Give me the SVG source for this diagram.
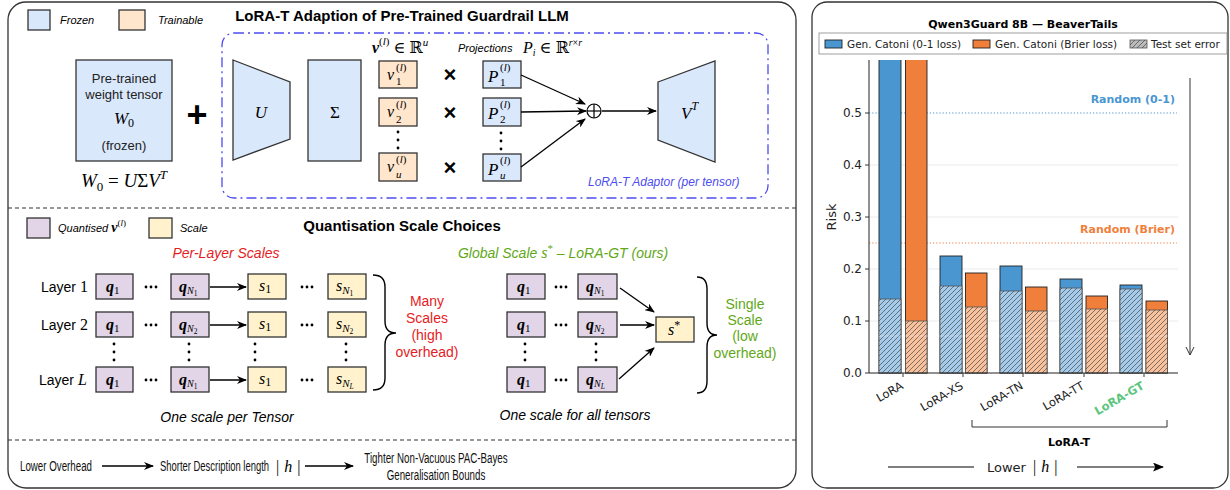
<svg xmlns="http://www.w3.org/2000/svg" width="1230" height="490" viewBox="0 0 1230 490">
<defs>
<style>
.sans{font-family:"Liberation Sans",Arial,sans-serif}
.it{font-family:"Liberation Sans",Arial,sans-serif;font-style:italic}
.b{font-family:"Liberation Sans",Arial,sans-serif;font-weight:bold}
.m{font-family:"Liberation Serif","DejaVu Serif",serif;font-style:italic}
.r{font-family:"Liberation Serif","DejaVu Serif",serif;font-style:normal}
.dj{font-family:"DejaVu Sans",sans-serif}
.fz{fill:#dae8fc;stroke:#333;stroke-width:1.3}
.tr{fill:#ffe6cc;stroke:#333;stroke-width:1.3}
.qu{fill:#e1d5e7;stroke:#333;stroke-width:1.3}
.sc{fill:#fff2cc;stroke:#333;stroke-width:1.3}
.ar{stroke:#000;stroke-width:1.3;fill:none;marker-end:url(#ah)}
.panel{fill:#fff;stroke:#333;stroke-width:1.3}
.sep{stroke:#333;stroke-width:1.2;stroke-dasharray:4 3;fill:none}
.red{fill:#e51c23}
.grn{fill:#5fa818}
.bl{fill:#4a96d1;stroke:#222;stroke-width:0.9}
.or{fill:#ef7f3b;stroke:#222;stroke-width:0.9}
.blh{fill:#a6cbea;stroke:#555;stroke-width:0.8}
.orh{fill:#f8c19d;stroke:#555;stroke-width:0.8}
.hp{fill:url(#hatch);stroke:none}
.grid{stroke:#ebebeb;stroke-width:1}
.tick{stroke:#222;stroke-width:0.9}
.tl{font-family:"DejaVu Sans",sans-serif;font-size:12px;fill:#222;text-anchor:end}
.xl{font-family:"DejaVu Sans",sans-serif;font-size:11.5px;fill:#222;text-anchor:end}
.nar{font-family:"Liberation Sans",Arial,sans-serif;font-size:15px;fill:#111}
</style>
<marker id="ah" viewBox="0 0 10 8" refX="9" refY="4" markerWidth="10" markerHeight="8" markerUnits="userSpaceOnUse" orient="auto"><path d="M0,0 L10,4 L0,8 L3,4 z" fill="#000"/></marker>
<marker id="ah2" viewBox="0 0 10 8" refX="9" refY="4" markerWidth="11" markerHeight="9" markerUnits="userSpaceOnUse" orient="auto"><path d="M0,0 L10,4 L0,8 L2,4 z" fill="#000"/></marker>
<pattern id="hatch" patternUnits="userSpaceOnUse" width="5" height="5"><path d="M0,5 L5,0 M-1,1 L1,-1 M4,6 L6,4" stroke="#333" stroke-width="0.6"/></pattern>
<clipPath id="axclip"><rect x="869" y="60" width="310" height="314"/></clipPath>
<g id="hd"><circle cx="-5" cy="0" r="1.4"/><circle cx="0" cy="0" r="1.4"/><circle cx="5" cy="0" r="1.4"/></g>
<g id="vd"><circle cx="0" cy="-8" r="1.4"/><circle cx="0" cy="0" r="1.4"/><circle cx="0" cy="8" r="1.4"/></g>
</defs>

<rect x="0" y="0" width="1230" height="490" fill="#fff"/>

<!-- Left panel -->
<rect class="panel" x="8" y="2" width="788" height="486" rx="18"/>
<line class="sep" x1="8" y1="208" x2="796" y2="208"/>
<line class="sep" x1="8" y1="440" x2="796" y2="440"/>

<!-- Top section -->
<g id="legend-top">
<rect class="fz" x="28" y="10" width="22" height="20"/>
<text class="it" x="60" y="24" font-size="11">Frozen</text>
<rect class="tr" x="119" y="10" width="26" height="20"/>
<text class="it" x="158" y="24" font-size="11">Trainable</text>
</g>
<text class="b" x="402" y="21" font-size="15" text-anchor="middle">LoRA-T Adaption of Pre-Trained Guardrail LLM</text>

<g id="w0">
<rect class="fz" x="76" y="60" width="96" height="101"/>
<text class="sans" x="124" y="83" font-size="13" text-anchor="middle" fill="#222">Pre-trained</text>
<text class="sans" x="124" y="99" font-size="13" text-anchor="middle" fill="#222">weight tensor</text>
<text x="124" y="124" text-anchor="middle"><tspan class="m" font-size="17">W</tspan><tspan class="r" font-size="12" dy="3">0</tspan></text>
<text class="sans" x="124" y="150" font-size="13" text-anchor="middle" fill="#222">(frozen)</text>
</g>
<text x="124" y="187" text-anchor="middle" font-size="19"><tspan class="m">W</tspan><tspan class="r" font-size="13" dy="4">0</tspan><tspan class="r" dy="-4"> = </tspan><tspan class="m">U</tspan><tspan class="r">Σ</tspan><tspan class="m">V</tspan><tspan class="m" font-size="13" dy="-8">T</tspan></text>
<text class="b" x="197" y="127" font-size="36" text-anchor="middle">+</text>

<g id="adaptor">
<rect x="222" y="33" width="546" height="165" rx="12" fill="none" stroke="#4c4cf0" stroke-width="1.3" stroke-dasharray="10 4 2 4"/>
<text class="it" x="588" y="186" font-size="12" fill="#4c4cf0">LoRA-T Adaptor (per tensor)</text>
</g>
<g id="U"><polygon class="fz" points="233,60 290,82 290,139 233,160"/><text class="m" x="261" y="118" font-size="17" text-anchor="middle">U</text></g>
<g id="Sigma"><rect class="fz" x="308" y="60" width="53" height="101"/><text class="r" x="335" y="118" font-size="17" text-anchor="middle">Σ</text></g>

<text x="372" y="53" font-size="16"><tspan class="m" font-weight="bold">v</tspan><tspan class="r" font-size="11" dy="-8">(</tspan><tspan class="m" font-size="11">l</tspan><tspan class="r" font-size="11">)</tspan><tspan class="r" dy="8"> ∈ ℝ</tspan><tspan class="m" font-size="11" dy="-7">u</tspan></text>
<text class="it" x="458" y="52" font-size="11">Projections</text>
<text x="523" y="53" font-size="16"><tspan class="m">P</tspan><tspan class="m" font-size="10" dy="3">i</tspan><tspan class="r" dy="-3"> ∈ ℝ</tspan><tspan class="m" font-size="10" dy="-7">r</tspan><tspan class="r" font-size="10">×</tspan><tspan class="m" font-size="10">r</tspan></text>

<g id="v1"><rect class="tr" x="379" y="61" width="38" height="27"/><text class="m" x="387" y="80" font-size="16">v</text><text x="396" y="71" font-size="11"><tspan class="r">(</tspan><tspan class="m">l</tspan><tspan class="r">)</tspan></text><text class="r" x="396" y="85" font-size="11">1</text></g>
<g id="v2"><rect class="tr" x="379" y="98" width="38" height="28"/><text class="m" x="387" y="117" font-size="16">v</text><text x="396" y="108" font-size="11"><tspan class="r">(</tspan><tspan class="m">l</tspan><tspan class="r">)</tspan></text><text class="r" x="396" y="123" font-size="11">2</text></g>
<use href="#vd" x="398" y="140"/>
<g id="vu"><rect class="tr" x="379" y="153" width="38" height="28"/><text class="m" x="387" y="172" font-size="16">v</text><text x="396" y="163" font-size="11"><tspan class="r">(</tspan><tspan class="m">l</tspan><tspan class="r">)</tspan></text><text class="m" x="396" y="178" font-size="11">u</text></g>

<text class="b" x="450" y="82" font-size="22" text-anchor="middle">×</text>
<text class="b" x="450" y="120" font-size="22" text-anchor="middle">×</text>
<text class="b" x="450" y="175" font-size="22" text-anchor="middle">×</text>

<g id="P1"><rect class="fz" x="483" y="61" width="38" height="27"/><text class="m" x="488" y="82" font-size="17">P</text><text x="500" y="71" font-size="11"><tspan class="r">(</tspan><tspan class="m">l</tspan><tspan class="r">)</tspan></text><text class="r" x="500" y="86" font-size="11">1</text></g>
<g id="P2"><rect class="fz" x="483" y="98" width="38" height="28"/><text class="m" x="488" y="119" font-size="17">P</text><text x="500" y="108" font-size="11"><tspan class="r">(</tspan><tspan class="m">l</tspan><tspan class="r">)</tspan></text><text class="r" x="500" y="123" font-size="11">2</text></g>
<use href="#vd" x="501" y="141"/>
<g id="Pu"><rect class="fz" x="483" y="154" width="38" height="27"/><text class="m" x="488" y="175" font-size="17">P</text><text x="500" y="164" font-size="11"><tspan class="r">(</tspan><tspan class="m">l</tspan><tspan class="r">)</tspan></text><text class="m" x="500" y="179" font-size="11">u</text></g>

<g id="oplus"><circle cx="594" cy="111" r="7" fill="none" stroke="#000" stroke-width="1.2"/><line x1="587" y1="111" x2="601" y2="111" stroke="#000" stroke-width="1.2"/><line x1="594" y1="104" x2="594" y2="118" stroke="#000" stroke-width="1.2"/></g>
<g id="VT"><polygon class="fz" points="658,82 715,61 715,162 658,140"/><text x="681" y="119" font-size="17"><tspan class="m">V</tspan><tspan class="m" font-size="12" dy="-9">T</tspan></text></g>

<!-- Quantisation section -->
<g id="legend-q">
<rect class="qu" x="27" y="218" width="23" height="20"/>
<text x="58" y="232" font-size="11"><tspan class="it">Quantised </tspan><tspan class="m" font-weight="bold" font-size="14">v</tspan><tspan class="r" font-size="9" dy="-6">(</tspan><tspan class="m" font-size="9">l</tspan><tspan class="r" font-size="9">)</tspan></text>
<rect class="sc" x="149" y="218" width="23" height="20"/>
<text class="it" x="180" y="232" font-size="11">Scale</text>
</g>
<text class="b" x="402" y="231" font-size="15" text-anchor="middle">Quantisation Scale Choices</text>
<text class="it red" x="226" y="258" font-size="14" text-anchor="middle">Per-Layer Scales</text>
<text class="grn" x="563" y="258" font-size="14" text-anchor="middle"><tspan class="it">Global Scale </tspan><tspan class="m" font-size="16">s</tspan><tspan class="r" font-size="11" dy="-6">*</tspan><tspan class="it" dy="6"> – LoRA-GT (ours)</tspan></text>

<g id="layer-labels" font-size="14">
<text x="41" y="292"><tspan class="sans">Layer </tspan><tspan class="r" font-size="16">1</tspan></text>
<text x="41" y="330"><tspan class="sans">Layer </tspan><tspan class="r" font-size="16">2</tspan></text>
<text x="39" y="385"><tspan class="sans">Layer </tspan><tspan class="m" font-size="16">L</tspan></text>
</g>

<g id="left-q">
<rect class="qu" x="96" y="274" width="37" height="25"/><text x="106" y="292"><tspan class="m" font-weight="bold" font-size="16">q</tspan><tspan class="r" font-size="11" dy="2">1</tspan></text>
<rect class="qu" x="96" y="312" width="37" height="25"/><text x="106" y="330"><tspan class="m" font-weight="bold" font-size="16">q</tspan><tspan class="r" font-size="11" dy="2">1</tspan></text>
<rect class="qu" x="96" y="367" width="37" height="25"/><text x="106" y="385"><tspan class="m" font-weight="bold" font-size="16">q</tspan><tspan class="r" font-size="11" dy="2">1</tspan></text>
<use href="#hd" x="151" y="287"/><use href="#hd" x="151" y="325"/><use href="#hd" x="151" y="380"/>
<use href="#vd" x="114" y="352"/>
<rect class="qu" x="171" y="274" width="38" height="25"/><text x="179" y="292"><tspan class="m" font-weight="bold" font-size="16">q</tspan><tspan class="m" font-size="10" dy="2">N</tspan><tspan class="r" font-size="7.5" dy="2">1</tspan></text>
<rect class="qu" x="171" y="312" width="38" height="25"/><text x="179" y="330"><tspan class="m" font-weight="bold" font-size="16">q</tspan><tspan class="m" font-size="10" dy="2">N</tspan><tspan class="r" font-size="7.5" dy="2">2</tspan></text>
<rect class="qu" x="171" y="367" width="38" height="25"/><text x="179" y="385"><tspan class="m" font-weight="bold" font-size="16">q</tspan><tspan class="m" font-size="10" dy="2">N</tspan><tspan class="r" font-size="7.5" dy="2">1</tspan></text>
<use href="#vd" x="189" y="352"/>
</g>
<g id="left-s">
<rect class="sc" x="248" y="274" width="38" height="25"/><text x="259" y="291"><tspan class="m" font-size="16">s</tspan><tspan class="r" font-size="12" dy="2">1</tspan></text>
<rect class="sc" x="248" y="312" width="38" height="25"/><text x="259" y="329"><tspan class="m" font-size="16">s</tspan><tspan class="r" font-size="12" dy="2">1</tspan></text>
<rect class="sc" x="248" y="367" width="38" height="25"/><text x="259" y="384"><tspan class="m" font-size="16">s</tspan><tspan class="r" font-size="12" dy="2">1</tspan></text>
<use href="#hd" x="307" y="287"/><use href="#hd" x="307" y="325"/><use href="#hd" x="307" y="380"/>
<use href="#vd" x="255" y="352"/>
<rect class="sc" x="328" y="274" width="38" height="25"/><text x="336" y="291"><tspan class="m" font-size="16">s</tspan><tspan class="m" font-size="11" dy="3">N</tspan><tspan class="r" font-size="7.5" dy="2">1</tspan></text>
<rect class="sc" x="328" y="312" width="38" height="25"/><text x="336" y="329"><tspan class="m" font-size="16">s</tspan><tspan class="m" font-size="11" dy="3">N</tspan><tspan class="r" font-size="7.5" dy="2">2</tspan></text>
<rect class="sc" x="328" y="367" width="38" height="25"/><text x="336" y="384"><tspan class="m" font-size="16">s</tspan><tspan class="m" font-size="11" dy="3">N</tspan><tspan class="m" font-size="7.5" dy="2">L</tspan></text>
<use href="#vd" x="346" y="352"/>
</g>
<g id="left-braces">
<path d="M373,275 Q385,275 385,287 L385,321 Q385,333 396,333 Q385,333 385,345 L385,378 Q385,390 373,390" fill="none" stroke="#000" stroke-width="1.4"/>
<text class="sans red" font-size="14" text-anchor="middle"><tspan x="427" y="306">Many</tspan><tspan x="427" y="323">Scales</tspan><tspan x="427" y="340">(high</tspan><tspan x="427" y="357">overhead)</tspan></text>
</g>
<text class="it" x="227" y="422" font-size="14" text-anchor="middle">One scale per Tensor</text>

<g id="right-q">
<rect class="qu" x="507" y="274" width="38" height="25"/><text x="517" y="292"><tspan class="m" font-weight="bold" font-size="16">q</tspan><tspan class="r" font-size="11" dy="2">1</tspan></text>
<rect class="qu" x="507" y="312" width="38" height="25"/><text x="517" y="330"><tspan class="m" font-weight="bold" font-size="16">q</tspan><tspan class="r" font-size="11" dy="2">1</tspan></text>
<rect class="qu" x="507" y="367" width="38" height="25"/><text x="517" y="385"><tspan class="m" font-weight="bold" font-size="16">q</tspan><tspan class="r" font-size="11" dy="2">1</tspan></text>
<use href="#hd" x="561" y="287"/><use href="#hd" x="561" y="325"/><use href="#hd" x="561" y="380"/>
<use href="#vd" x="525" y="352"/>
<rect class="qu" x="578" y="274" width="39" height="25"/><text x="586" y="292"><tspan class="m" font-weight="bold" font-size="16">q</tspan><tspan class="m" font-size="10" dy="2">N</tspan><tspan class="r" font-size="7.5" dy="2">1</tspan></text>
<rect class="qu" x="578" y="312" width="39" height="25"/><text x="586" y="330"><tspan class="m" font-weight="bold" font-size="16">q</tspan><tspan class="m" font-size="10" dy="2">N</tspan><tspan class="r" font-size="7.5" dy="2">2</tspan></text>
<rect class="qu" x="578" y="367" width="39" height="25"/><text x="586" y="385"><tspan class="m" font-weight="bold" font-size="16">q</tspan><tspan class="m" font-size="10" dy="2">N</tspan><tspan class="m" font-size="7.5" dy="2">L</tspan></text>
<use href="#vd" x="596" y="352"/>
</g>
<g id="sstar"><rect class="sc" x="656" y="317" width="38" height="25"/><text x="668" y="335"><tspan class="m" font-size="16">s</tspan><tspan class="r" font-size="12" dy="-6">*</tspan></text></g>
<g id="right-braces">
<path d="M697,277 Q707,277 707,289 L707,323 Q707,335 717,335 Q707,335 707,347 L707,381 Q707,393 697,393" fill="none" stroke="#000" stroke-width="1.4"/>
<text class="sans grn" font-size="14" text-anchor="middle"><tspan x="745" y="309">Single</tspan><tspan x="745" y="325">Scale</tspan><tspan x="745" y="341">(low</tspan><tspan x="745" y="358">overhead)</tspan></text>
</g>
<text class="it" x="575" y="420" font-size="14" text-anchor="middle">One scale for all tensors</text>

<!-- Bottom row -->
<g id="bottom-row">
<g transform="translate(20,471) scale(0.65,1)"><text class="nar" x="0" y="0">Lower Overhead</text></g>
<g transform="translate(160,471) scale(0.63,1)"><text class="nar" x="0" y="0">Shorter Description length</text></g>
<text x="276" y="472" font-size="16" class="r">|<tspan class="m" dx="5">h</tspan><tspan dx="5">|</tspan></text>
<g transform="translate(436,463) scale(0.65,1)"><text class="nar" x="0" y="0" text-anchor="middle">Tighter Non-Vacuous PAC-Bayes</text></g>
<g transform="translate(436,480) scale(0.65,1)"><text class="nar" x="0" y="0" text-anchor="middle">Generalisation Bounds</text></g>
</g>

<!-- Connectors -->
<g id="connectors">
<line class="ar" x1="521" y1="75" x2="585" y2="104"/>
<line class="ar" x1="521" y1="112" x2="586" y2="111"/>
<line class="ar" x1="521" y1="167" x2="585" y2="119"/>
<line class="ar" x1="602" y1="111" x2="656" y2="111"/>
<line class="ar" x1="210" y1="287" x2="246" y2="287"/>
<line class="ar" x1="210" y1="325" x2="246" y2="325"/>
<line class="ar" x1="210" y1="380" x2="246" y2="380"/>
<line class="ar" x1="620" y1="288" x2="654" y2="312"/>
<line class="ar" x1="620" y1="325" x2="654" y2="325"/>
<line class="ar" x1="619" y1="379" x2="654" y2="348"/>
<line class="ar" x1="102" y1="466" x2="153" y2="466"/>
<line class="ar" x1="305" y1="466" x2="353" y2="466"/>
</g>

<!-- Chart panel -->
<g id="chart">
<rect class="panel" x="812" y="2" width="416" height="486" rx="15"/>
<text class="dj" x="1023" y="28" font-size="11" font-weight="bold" text-anchor="middle">Qwen3Guard 8B — BeaverTails</text>
<g id="chart-legend">
<rect x="819" y="33" width="408" height="21" fill="#fff" stroke="#888" stroke-width="0.8"/>
<rect class="bl" x="825" y="40" width="17" height="8"/>
<text class="dj" x="847" y="48" font-size="10.5" fill="#222">Gen. Catoni (0-1 loss)</text>
<rect class="or" x="973" y="40" width="17" height="8"/>
<text class="dj" x="995" y="48" font-size="10.5" fill="#222">Gen. Catoni (Brier loss)</text>
<rect x="1130" y="40" width="17" height="8" fill="#bbb" stroke="#555" stroke-width="0.8"/>
<rect class="hp" x="1130" y="40" width="17" height="8"/>
<text class="dj" x="1151" y="48" font-size="10.5" fill="#222">Test set error</text>
</g>
<g id="grid">
<line class="grid" x1="869" y1="321" x2="1178" y2="321"/>
<line class="grid" x1="869" y1="269" x2="1178" y2="269"/>
<line class="grid" x1="869" y1="217" x2="1178" y2="217"/>
<line class="grid" x1="869" y1="165" x2="1178" y2="165"/>
<line x1="869" y1="113" x2="1177" y2="113" stroke="#4a96d1" stroke-width="1" stroke-dasharray="1.2 2"/>
<line x1="869" y1="243" x2="1177" y2="243" stroke="#ef7f3b" stroke-width="1" stroke-dasharray="1.2 2"/>
</g>
<text class="dj" x="1175" y="103" font-size="11" font-weight="bold" fill="#4a96d1" text-anchor="end">Random (0-1)</text>
<text class="dj" x="1175" y="233" font-size="11" font-weight="bold" fill="#ef7f3b" text-anchor="end">Random (Brier)</text>
<g id="bars" clip-path="url(#axclip)">
<rect class="bl" x="879" y="40" width="22" height="333"/>
<rect class="blh" x="879" y="299" width="22" height="74"/><rect class="hp" x="879" y="299" width="22" height="74"/>
<rect class="or" x="905.5" y="40" width="21.5" height="333"/>
<rect class="orh" x="905.5" y="321" width="21.5" height="52"/><rect class="hp" x="905.5" y="321" width="21.5" height="52"/>

<rect class="bl" x="940" y="256" width="22" height="117"/>
<rect class="blh" x="940" y="286" width="22" height="87"/><rect class="hp" x="940" y="286" width="22" height="87"/>
<rect class="or" x="965.5" y="273" width="21.5" height="100"/>
<rect class="orh" x="965.5" y="307" width="21.5" height="66"/><rect class="hp" x="965.5" y="307" width="21.5" height="66"/>

<rect class="bl" x="1000" y="266" width="22" height="107"/>
<rect class="blh" x="1000" y="291" width="22" height="82"/><rect class="hp" x="1000" y="291" width="22" height="82"/>
<rect class="or" x="1025.5" y="287" width="21.5" height="86"/>
<rect class="orh" x="1025.5" y="311" width="21.5" height="62"/><rect class="hp" x="1025.5" y="311" width="21.5" height="62"/>

<rect class="bl" x="1060" y="279" width="22" height="94"/>
<rect class="blh" x="1060" y="288" width="22" height="85"/><rect class="hp" x="1060" y="288" width="22" height="85"/>
<rect class="or" x="1086" y="296" width="21.5" height="77"/>
<rect class="orh" x="1086" y="309" width="21.5" height="64"/><rect class="hp" x="1086" y="309" width="21.5" height="64"/>

<rect class="bl" x="1120" y="285" width="22" height="88"/>
<rect class="blh" x="1120" y="289" width="22" height="84"/><rect class="hp" x="1120" y="289" width="22" height="84"/>
<rect class="or" x="1146" y="301" width="21.5" height="72"/>
<rect class="orh" x="1146" y="310" width="21.5" height="63"/><rect class="hp" x="1146" y="310" width="21.5" height="63"/>
<line x1="869" y1="336" x2="1178" y2="336" stroke="#fff" stroke-opacity="0.3" stroke-width="1"/>
</g>
<g id="axes">
<line x1="869" y1="60" x2="869" y2="373" stroke="#222" stroke-width="1"/>
<line x1="869" y1="373" x2="1178" y2="373" stroke="#222" stroke-width="1"/>
<line class="tick" x1="865" y1="373" x2="869" y2="373"/><line class="tick" x1="865" y1="321" x2="869" y2="321"/><line class="tick" x1="865" y1="269" x2="869" y2="269"/><line class="tick" x1="865" y1="217" x2="869" y2="217"/><line class="tick" x1="865" y1="165" x2="869" y2="165"/><line class="tick" x1="865" y1="113" x2="869" y2="113"/>
<text class="tl" x="862" y="377">0.0</text><text class="tl" x="862" y="325">0.1</text><text class="tl" x="862" y="273">0.2</text><text class="tl" x="862" y="221">0.3</text><text class="tl" x="862" y="169">0.4</text><text class="tl" x="862" y="117">0.5</text>
<text class="dj" x="836" y="217" font-size="13" fill="#222" text-anchor="middle" transform="rotate(-90 836 217)">Risk</text>
<line class="tick" x1="903" y1="373" x2="903" y2="377"/><line class="tick" x1="963" y1="373" x2="963" y2="377"/><line class="tick" x1="1023" y1="373" x2="1023" y2="377"/><line class="tick" x1="1084" y1="373" x2="1084" y2="377"/><line class="tick" x1="1144" y1="373" x2="1144" y2="377"/>
<text class="xl" x="904" y="388" transform="rotate(-30 904 388)">LoRA</text>
<text class="xl" x="964" y="388" transform="rotate(-30 964 388)">LoRA-XS</text>
<text class="xl" x="1024" y="388" transform="rotate(-30 1024 388)">LoRA-TN</text>
<text class="xl" x="1085" y="388" transform="rotate(-30 1085 388)">LoRA-TT</text>
<text class="xl" x="1145" y="388" font-weight="bold" transform="rotate(-30 1145 388)" style="fill:#5cc57e">LoRA-GT</text>
</g>
<path d="M1190,78 L1190,355 M1186,347 L1190,355 L1194,347" fill="none" stroke="#333" stroke-width="1"/>
<path d="M972,420 L972,427 L1167,427 L1167,420" fill="none" stroke="#333" stroke-width="1"/>
<text class="dj" x="1069" y="446" font-size="11" font-weight="bold" text-anchor="middle">LoRA-T</text>
<line x1="888" y1="467" x2="974" y2="467" stroke="#000" stroke-width="1.2"/>
<text class="dj" x="987" y="472" font-size="13" fill="#222">Lower</text>
<text x="1033" y="472" font-size="16" class="r">|<tspan class="m" dx="5">h</tspan><tspan dx="5">|</tspan></text>
<line x1="1077" y1="467" x2="1163" y2="467" stroke="#000" stroke-width="1.2" marker-end="url(#ah2)"/>
</g>
</svg>
